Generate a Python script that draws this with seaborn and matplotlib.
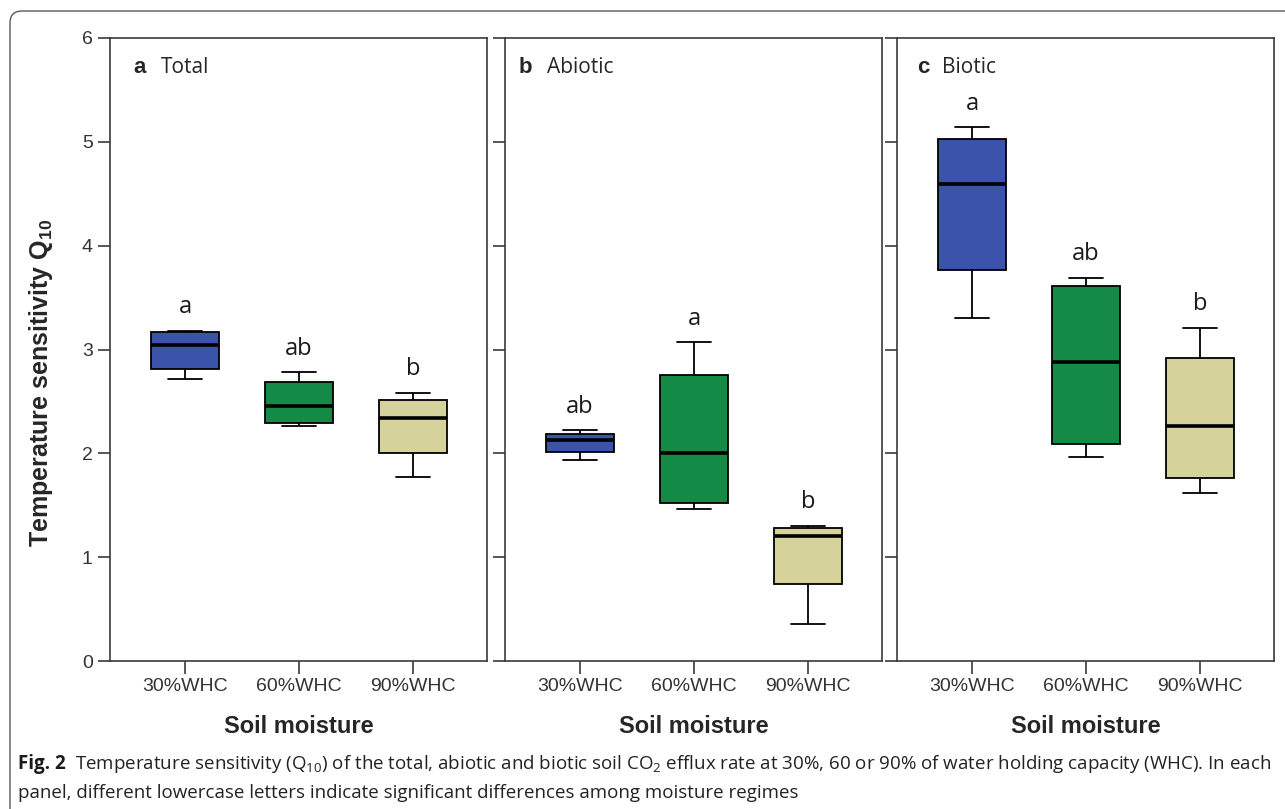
import numpy as np
import pandas as pd
import seaborn as sns
import matplotlib.pyplot as plt
from matplotlib.patches import FancyBboxPatch
from matplotlib.transforms import IdentityTransform

moisture = ['30%WHC', '60%WHC', '90%WHC']
panel_names = ['Total', 'Abiotic', 'Biotic']
panel_tags = ['a', 'b', 'c']

# box summaries: low whisker, Q1, median, Q3, high whisker
total_30 = [2.72, 2.81, 3.04, 3.17, 3.18]
total_60 = [2.26, 2.29, 2.46, 2.69, 2.78]
total_90 = [1.77, 2.00, 2.34, 2.51, 2.58]
abiotic_30 = [1.94, 2.01, 2.13, 2.19, 2.22]
abiotic_60 = [1.46, 1.52, 2.00, 2.75, 3.07]
abiotic_90 = [0.36, 0.74, 1.20, 1.28, 1.30]
biotic_30 = [3.30, 3.77, 4.59, 5.03, 5.14]
biotic_60 = [1.96, 2.09, 2.88, 3.61, 3.69]
biotic_90 = [1.62, 1.76, 2.26, 2.92, 3.21]

letters_total = ['a', 'ab', 'b']
letters_abiotic = ['ab', 'a', 'b']
letters_biotic = ['a', 'ab', 'b']

box_colors = ['#3B53AA', '#138A46', '#D6D29B']

rows = []
for panel, groups in zip(panel_names, [[total_30, total_60, total_90],
                                       [abiotic_30, abiotic_60, abiotic_90],
                                       [biotic_30, biotic_60, biotic_90]]):
    for m, vals in zip(moisture, groups):
        for v in vals:
            rows.append({'panel': panel, 'moisture': m, 'q10': v})
df = pd.DataFrame(rows)
letters = {'Total': letters_total, 'Abiotic': letters_abiotic, 'Biotic': letters_biotic}

sns.set_style('white')
plt.rcParams['font.family'] = ['Liberation Sans', 'DejaVu Sans']
plt.rcParams['mathtext.fontset'] = 'custom'
plt.rcParams['mathtext.rm'] = 'Liberation Sans'
plt.rcParams['mathtext.bf'] = 'Liberation Sans:bold'

W, H = 1285, 809
fig = plt.figure(figsize=(W / 100, H / 100), dpi=100)

lefts = [110, 505, 897]
tag_x = [0.061, 0.035, 0.053]
name_x = [0.136, 0.112, 0.12]
axes = []
for i, panel in enumerate(panel_names):
    ax = fig.add_axes([lefts[i] / W, 1 - 661 / H, 377 / W, 623 / H])
    axes.append(ax)
    sub = df[df['panel'] == panel]
    sns.boxplot(data=sub, x='moisture', y='q10', hue='moisture', order=moisture,
                hue_order=moisture, palette=box_colors, width=0.6, whis=(0, 100),
                linecolor='black', linewidth=1.3, legend=False, ax=ax,
                medianprops={'linewidth': 2.6}, saturation=1)
    ax.set_ylim(0, 6)
    ax.set_xlim(-0.66, 2.65)
    ax.set_yticks(range(0, 7))
    for s in ax.spines.values():
        s.set_color('#3a3a3a')
        s.set_linewidth(1.2)
    ax.tick_params(direction='out', length=9, width=1.2, color='#3a3a3a',
                   labelsize=14, labelcolor='#333333', left=True, bottom=True)
    ax.set_xlabel('Soil moisture', fontsize=17, fontweight='bold', labelpad=14)
    if i == 0:
        ax.set_ylabel('Temperature sensitivity Q$_{\\mathbf{10}}$', fontsize=18,
                      fontweight='bold')
        ax.yaxis.set_label_coords(-0.146, 0.446)
    else:
        ax.set_ylabel('')
        ax.tick_params(labelleft=False)
    # significance letters above each box
    for j, m in enumerate(moisture):
        top = sub[sub['moisture'] == m]['q10'].max()
        ax.text(j, top + 0.17, letters[panel][j], ha='center', va='baseline',
                fontsize=17, family='Open Sans', color='#1a1a1a')
    ax.text(tag_x[i], 0.952, panel_tags[i], transform=ax.transAxes, ha='left',
            va='center', fontsize=16, fontweight='bold', family='Liberation Sans')
    ax.text(name_x[i], 0.952, panel_names[i], transform=ax.transAxes, ha='left',
            va='center', fontsize=15, family='Open Sans')

# rounded frame around the figure
frame = FancyBboxPatch((10, -30), 1320, H - 11 + 30,
                       boxstyle='round,pad=0,rounding_size=12',
                       transform=IdentityTransform(), fill=False,
                       edgecolor='#5a5a5a', linewidth=1.0)
fig.add_artist(frame)

# caption
plt.rcParams['mathtext.rm'] = 'Open Sans'
cap_size = 13.5
t1 = fig.text(18 / W, 1 - 764 / H, 'Fig. 2', fontsize=cap_size, fontweight='bold',
              family='Open Sans', va='center', ha='left', color='#1a1a1a')
fig.canvas.draw()
bb = t1.get_window_extent()
fig.text((bb.x1 + 9) / W, 1 - 764 / H,
         'Temperature sensitivity (Q$_{10}$) of the total, abiotic and biotic soil CO$_2$ '
         'efflux rate at 30%, 60 or 90% of water holding capacity (WHC). In each',
         fontsize=cap_size, family='Open Sans', va='center', ha='left', color='#222222')
fig.text(18 / W, 1 - 793 / H,
         'panel, different lowercase letters indicate significant differences among moisture regimes',
         fontsize=cap_size, family='Open Sans', va='center', ha='left', color='#222222')

fig.savefig('out.png', dpi=100)
